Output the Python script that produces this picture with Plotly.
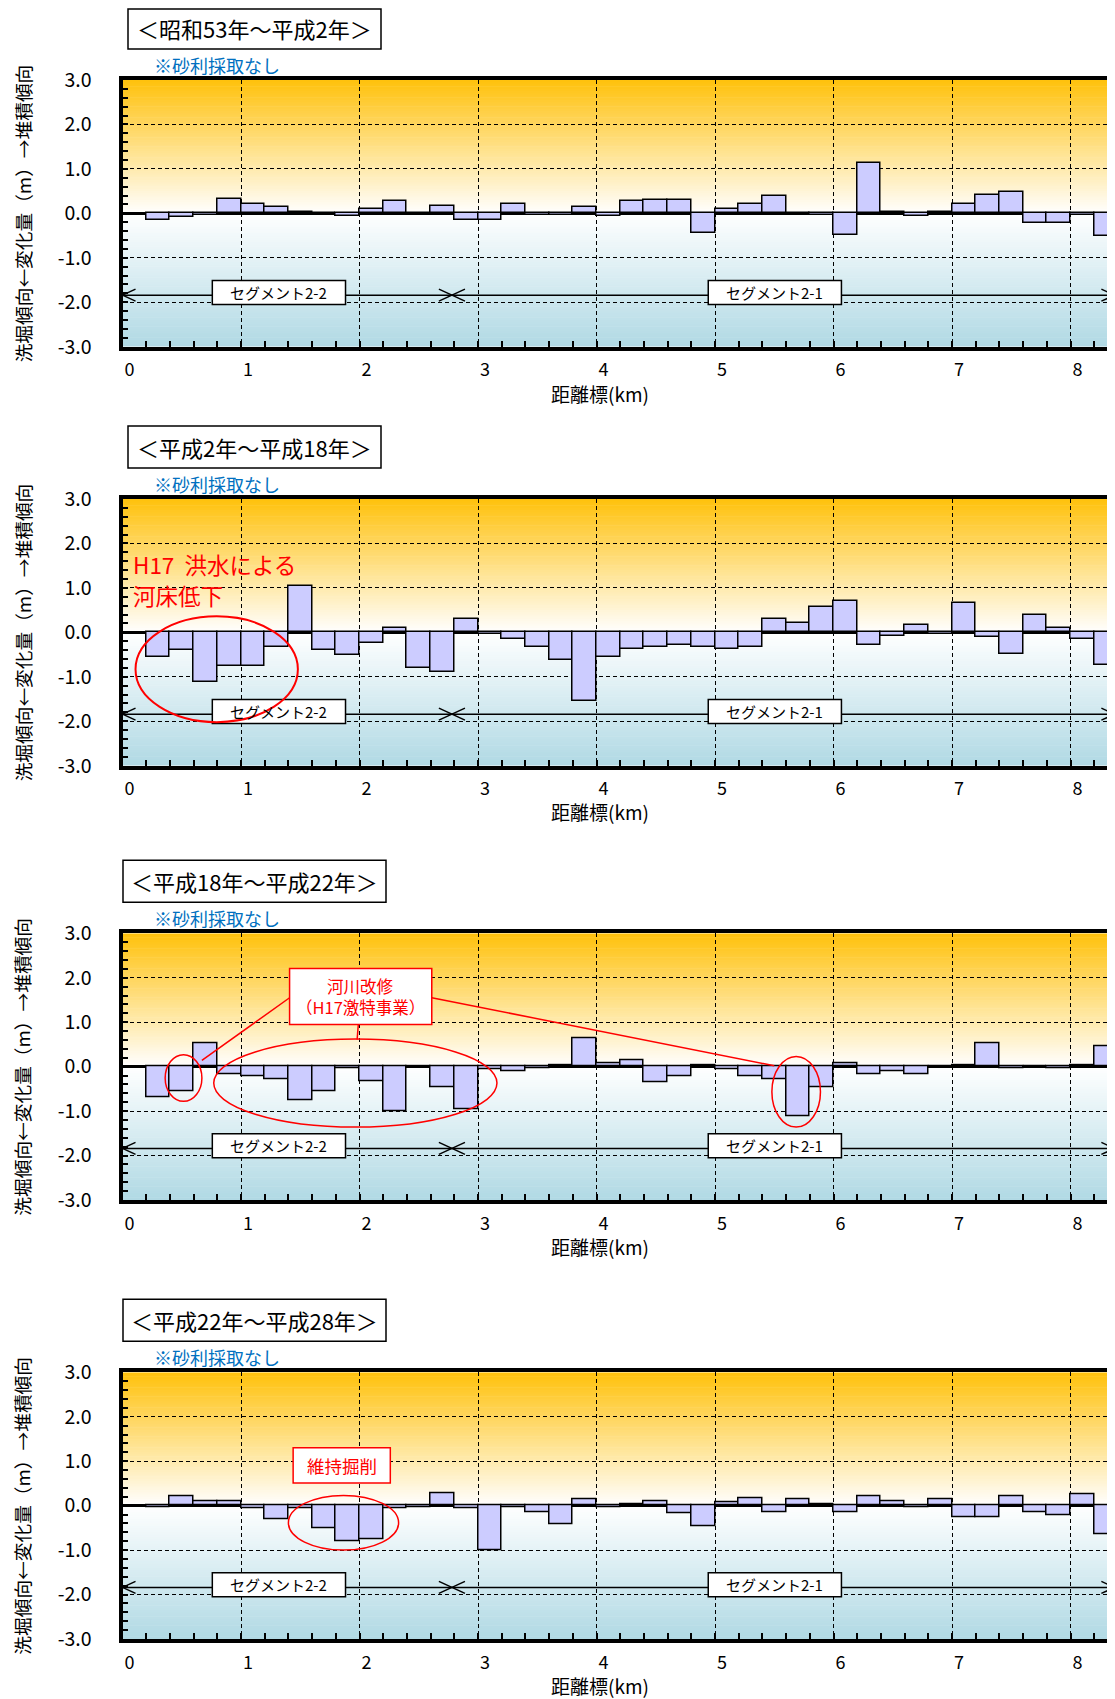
import plotly.graph_objects as go
import numpy as np

W, H = 1115, 1699

# ---------------- data ----------------
KM = [0.2, 0.4, 0.6, 0.8, 1.0, 1.2, 1.4, 1.6, 1.8, 2.0,
      2.2, 2.4, 2.6, 2.8, 3.0, 3.2, 3.4, 3.6, 3.8, 4.0,
      4.2, 4.4, 4.6, 4.8, 5.0, 5.2, 5.4, 5.6, 5.8, 6.0,
      6.2, 6.4, 6.6, 6.8, 7.0, 7.2, 7.4, 7.6, 7.8, 8.0, 8.2]

S53_H2 = [-0.15, -0.08, -0.03, 0.32, 0.21, 0.14, 0.04, 0.00, -0.07, 0.10,
          0.28, 0.00, 0.17, -0.15, -0.15, 0.21, -0.03, -0.03, 0.14, -0.07,
          0.27, 0.31, 0.31, -0.44, 0.10, 0.21, 0.38, -0.02, -0.03, -0.48,
          1.13, 0.04, -0.07, 0.04, 0.21, 0.42, 0.49, -0.22, -0.22, -0.03, -0.52]

H2_H18 = [-0.55, -0.40, -1.12, -0.76, -0.76, -0.32, 1.04, -0.40, -0.51, -0.25,
          0.10, -0.80, -0.90, 0.31, -0.03, -0.15, -0.33, -0.62, -1.55, -0.55,
          -0.37, -0.33, -0.29, -0.33, -0.37, -0.33, 0.31, 0.20, 0.56, 0.71,
          -0.29, -0.08, 0.17, -0.03, 0.67, -0.11, -0.48, 0.38, 0.10, -0.15, -0.73]

H18_H22 = [-0.68, -0.56, 0.53, -0.18, -0.22, -0.29, -0.75, -0.56, -0.03, -0.32,
           -1.00, -0.02, -0.47, -0.97, -0.06, -0.10, -0.03, 0.03, 0.64, 0.08,
           0.14, -0.35, -0.22, 0.04, -0.07, -0.22, -0.29, -1.12, -0.47, 0.08,
           -0.18, -0.10, -0.18, 0.00, 0.04, 0.53, -0.03, 0.00, -0.03, 0.04, 0.46]

H22_H28 = [-0.04, 0.21, 0.10, 0.10, -0.07, -0.30, -0.07, -0.51, -0.80, -0.76,
           -0.07, -0.03, 0.28, -0.07, -1.01, -0.03, -0.15, -0.43, 0.14, -0.04,
           0.04, 0.10, -0.18, -0.47, 0.07, 0.17, -0.15, 0.14, 0.04, -0.15,
           0.21, 0.10, -0.04, 0.14, -0.26, -0.26, 0.21, -0.15, -0.22, 0.25, -0.65]

SERIES = [S53_H2, H2_H18, H18_H22, H22_H28]
PERIODS = ["＜昭和53年～平成2年＞", "＜平成2年～平成18年＞",
           "＜平成18年～平成22年＞", "＜平成22年～平成28年＞"]

X_TICKS = [0, 1, 2, 3, 4, 5, 6, 7, 8]
Y_TICKS = [-3, -2, -1, 0, 1, 2, 3]
Y_TICKTEXT = ["-3.0", "-2.0", "-1.0", "0.0", "1.0", "2.0", "3.0"]

NOTE = "※砂利採取なし"
Y_TITLE = "洗堀傾向←変化量（m）→堆積傾向"
X_TITLE = "距離標(km)"
SEGMENTS = ["セグメント2-2", "セグメント2-1"]
SEG_CENTER = [1.32, 5.505]
SEG_BOUNDARY = 2.78

# ---------------- layout geometry (page pixels) ----------------
OFF = 8            # page body margin that offsets the figure
PANEL_TOP = [80.0, 499.0, 933.3, 1372.3]
PANEL_H = 266.7
X0_PX = 122.5
PX_PER_KM = 118.5
XMAX = (W + OFF - X0_PX) / PX_PER_KM     # figure right edge
SEG_END = (W - X0_PX) / PX_PER_KM        # visible page right edge
TITLE_BOX_X = [(128, 381), (128, 381), (123, 386), (123, 386)]

FONT = "Noto Sans CJK JP"
RED = "#FF0000"


def py(p):
    return 1 - (p - OFF) / H


def px(p):
    return (p - OFF) / W


TOP_COL = np.array([255, 193, 12])
BOT_COL = np.array([176, 217, 228])
WHITE = np.array([255, 255, 255])


def band_color(v):
    if v >= 0:
        c = WHITE + (TOP_COL - WHITE) * (v / 3.0)
    else:
        c = WHITE + (BOT_COL - WHITE) * (-v / 3.0)
    c = np.clip(np.round(c), 0, 255).astype(int)
    return f"rgb({c[0]},{c[1]},{c[2]})"


fig = go.Figure()
shapes = []
annotations = []
layout = {}

for i in range(4):
    n = i + 1
    xa = "x" if n == 1 else f"x{n}"
    ya = "y" if n == 1 else f"y{n}"
    xkey = "xaxis" if n == 1 else f"xaxis{n}"
    ykey = "yaxis" if n == 1 else f"yaxis{n}"
    top = PANEL_TOP[i]
    bot = top + PANEL_H

    fig.add_trace(go.Bar(
        x=KM, y=SERIES[i], width=0.2, offset=0,
        marker=dict(color="#CCCCFF", line=dict(color="black", width=1.5)),
        xaxis=xa, yaxis=ya, hoverinfo="x+y", showlegend=False))

    layout[xkey] = dict(
        domain=[px(X0_PX), 1.0], anchor=ya, range=[0, XMAX], automargin=False,
        tickvals=X_TICKS, ticktext=[str(t) for t in X_TICKS],
        showgrid=True, gridcolor="black", gridwidth=1, griddash="4px,3px",
        zeroline=False, showline=True, linecolor="black", linewidth=4, mirror=True,
        ticks="inside", ticklen=6, tickcolor="black", tickwidth=1.5,
        minor=dict(dtick=0.2, tick0=0, ticks="inside", ticklen=6,
                   tickcolor="black", tickwidth=1.5, showgrid=False),
        tickfont=dict(family=FONT, size=18, color="black"),
        ticklabelstandoff=4, ticklabelshift=7, fixedrange=True)
    layout[ykey] = dict(
        domain=[py(bot), py(top)], anchor=xa, range=[-3, 3], automargin=False,
        tickvals=Y_TICKS, ticktext=Y_TICKTEXT,
        showgrid=True, gridcolor="black", gridwidth=1, griddash="4px,3px",
        zeroline=True, zerolinecolor="black", zerolinewidth=2.5,
        showline=True, linecolor="black", linewidth=4, mirror=False,
        ticks="inside", ticklen=5, tickcolor="black", tickwidth=1.5,
        minor=dict(dtick=0.2, tick0=0, ticks="inside", ticklen=5,
                   tickcolor="black", tickwidth=1.5, showgrid=False),
        tickfont=dict(family=FONT, size=19.5, color="black"),
        ticklabelstandoff=23, fixedrange=True)

    # gradient background bands
    step = 0.05
    for k in range(int(round(6 / step))):
        y0 = -3 + k * step
        y1 = y0 + step
        shapes.append(dict(type="rect", xref=xa, yref=ya, x0=0, x1=XMAX,
                           y0=y0, y1=min(3, y1 + 0.012), layer="below",
                           line=dict(width=0), fillcolor=band_color((y0 + y1) / 2)))

    # period title box
    bx0, bx1 = TITLE_BOX_X[i]
    box_top = max(top - 73, OFF + 1)
    shapes.append(dict(type="rect", xref="paper", yref="paper",
                       x0=px(bx0), x1=px(bx1), y0=py(top - 31), y1=py(box_top),
                       line=dict(color="black", width=1.5), fillcolor="white"))
    annotations.append(dict(text=PERIODS[i], xref="paper", yref="paper",
                            x=px((bx0 + bx1) / 2), y=py(top - 52), showarrow=False,
                            xanchor="center", yanchor="middle",
                            font=dict(family=FONT, size=22, color="black")))
    annotations.append(dict(text=NOTE, xref="paper", yref="paper",
                            x=px(152), y=py(top - 15), showarrow=False,
                            xanchor="left", yanchor="middle",
                            font=dict(family=FONT, size=18, color="#0070C0")))
    annotations.append(dict(text=Y_TITLE, xref="paper", yref="paper",
                            x=px(22), y=py(top + PANEL_H / 2), showarrow=False,
                            textangle=-90, xanchor="center", yanchor="middle",
                            font=dict(family=FONT, size=18.7, color="black")))
    annotations.append(dict(text=X_TITLE, xref="paper", yref="paper",
                            x=px(600), y=py(top + 313), showarrow=False,
                            xanchor="center", yanchor="middle",
                            font=dict(family=FONT, size=19, color="black")))

    # segment line, arrows and labels
    sy = -1.84
    ah_x, ah_y = 0.11, 0.135
    shapes.append(dict(type="line", xref=xa, yref=ya, x0=0, x1=SEG_END, y0=sy, y1=sy,
                       line=dict(color="black", width=1.5)))
    for tip, d in [(0, 1), (SEG_BOUNDARY, -1), (SEG_BOUNDARY, 1), (SEG_END - 0.005, -1)]:
        for s in (1, -1):
            shapes.append(dict(type="line", xref=xa, yref=ya, x0=tip, y0=sy,
                               x1=tip + d * ah_x, y1=sy + s * ah_y,
                               line=dict(color="black", width=1.5)))
    for name, cx in zip(SEGMENTS, SEG_CENTER):
        shapes.append(dict(type="rect", xref=xa, yref=ya, x0=cx - 0.562, x1=cx + 0.562,
                           y0=-2.05, y1=-1.51, line=dict(color="black", width=1.5),
                           fillcolor="white"))
        annotations.append(dict(text=name, xref=xa, yref=ya, x=cx, y=-1.78,
                                showarrow=False, xanchor="center", yanchor="middle",
                                font=dict(family=FONT, size=15, color="black")))

# ---------------- red callouts ----------------
# panel 2
annotations.append(dict(text="H17  洪水による", xref="x2", yref="y2",
                        x=0.07, y=1.53, showarrow=False,
                        xanchor="left", yanchor="middle",
                        font=dict(family=FONT, size=22.5, color=RED)))
annotations.append(dict(text="河床低下", xref="x2", yref="y2",
                        x=0.07, y=0.84, showarrow=False,
                        xanchor="left", yanchor="middle",
                        font=dict(family=FONT, size=22.5, color=RED)))
shapes.append(dict(type="circle", xref="x2", yref="y2", x0=0.11, x1=1.48, y0=-2.02, y1=0.36,
                   line=dict(color=RED, width=2)))

# panel 3
for (xa0, ya0, xa1, ya1) in [(1.41, 1.55, 0.67, 0.14), (1.99, 0.95, 1.98, 0.61),
                             (2.61, 1.55, 5.50, 0.02)]:
    shapes.append(dict(type="line", xref="x3", yref="y3", x0=xa0, y0=ya0, x1=xa1, y1=ya1,
                       line=dict(color=RED, width=1.5)))
shapes.append(dict(type="rect", xref="x3", yref="y3", x0=1.41, x1=2.61, y0=0.95, y1=2.21,
                   line=dict(color=RED, width=1.5), fillcolor="white"))
annotations.append(dict(text="河川改修", xref="x3", yref="y3", x=2.01, y=1.81,
                        showarrow=False, xanchor="center", yanchor="middle",
                        font=dict(family=FONT, size=16.5, color=RED)))
annotations.append(dict(text="（H17激特事業）", xref="x3", yref="y3", x=2.01, y=1.34,
                        showarrow=False, xanchor="center", yanchor="middle",
                        font=dict(family=FONT, size=16.5, color=RED)))
for (e0, e1, f0, f1) in [(0.36, 0.67, -0.78, 0.27), (0.77, 3.16, -1.36, 0.62),
                         (5.48, 5.89, -1.36, 0.23)]:
    shapes.append(dict(type="circle", xref="x3", yref="y3", x0=e0, x1=e1, y0=f0, y1=f1,
                       line=dict(color=RED, width=1.5)))

# panel 4
shapes.append(dict(type="rect", xref="x4", yref="y4", x0=1.44, x1=2.26, y0=0.51, y1=1.30,
                   line=dict(color=RED, width=1.5), fillcolor="white"))
annotations.append(dict(text="維持掘削", xref="x4", yref="y4", x=1.85, y=0.91,
                        showarrow=False, xanchor="center", yanchor="middle",
                        font=dict(family=FONT, size=17.5, color=RED)))
shapes.append(dict(type="circle", xref="x4", yref="y4", x0=1.40, x1=2.33, y0=-1.0, y1=0.23,
                   line=dict(color=RED, width=1.5)))

fig.update_layout(
    width=W, height=H, margin=dict(l=0, r=0, t=0, b=0, autoexpand=False),
    paper_bgcolor="white", plot_bgcolor="white", showlegend=False,
    bargap=0, shapes=shapes, annotations=annotations,
    font=dict(family=FONT, color="black"), **layout)

fig.write_html("out.html")
